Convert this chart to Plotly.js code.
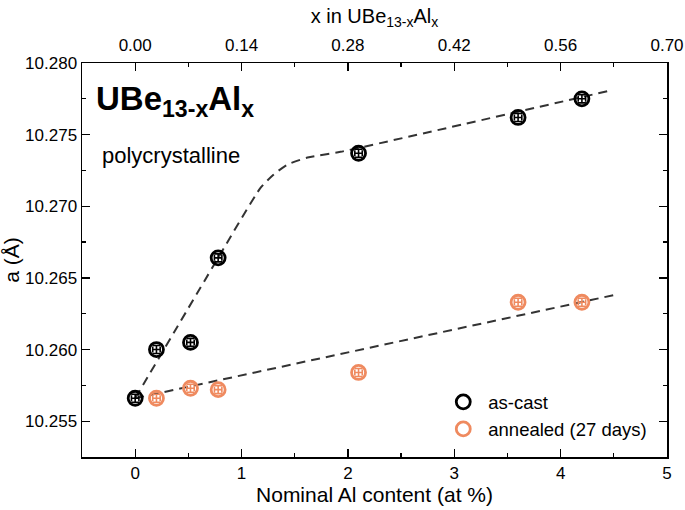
<!DOCTYPE html>
<html>
<head>
<meta charset="utf-8">
<script src="https://cdn.plot.ly/plotly-3.0.1.min.js"></script>
<style>html,body{margin:0;padding:0;background:#fff;}#chart{width:685px;height:510px;}</style>
</head>
<body>
<div id="chart"></div>
<script>
// Data
const asCastX = [0, 0.2, 0.52, 0.78, 2.1, 3.6, 4.2];
const asCastY = [10.2566, 10.2600, 10.2605, 10.2664, 10.2737, 10.2762, 10.2775];
const annealedX = [0.2, 0.52, 0.78, 2.1, 3.6, 4.2];
const annealedY = [10.2566, 10.2573, 10.2572, 10.2584, 10.2633, 10.2633];
// guide lines (dashed)
const guide1X = [0, 0.78, 1.18, 1.30, 1.43, 1.62, 1.93, 4.48];
const guide1Y = [10.2566, 10.2664, 10.2713, 10.2722, 10.2729, 10.2734, 10.2738, 10.2781];
const guide2X = [0, 4.5];
const guide2Y = [10.2566, 10.2638];
// top axis ticks (x in UBe13-xAlx)
const topTicks = [0.00, 0.14, 0.28, 0.42, 0.56, 0.70];
const topTickText = ['0.00', '0.14', '0.28', '0.42', '0.56', '0.70'];

const black = '#000000';
const orange = '#EF8A5F';
const font = 'Liberation Sans, Arial, sans-serif';

const errY = 0.00028, errX = 0.035;
function errs(n, v){ return Array(n).fill(v); }

const traces = [
  {x: guide1X, y: guide1Y, mode: 'lines', line: {color: '#333', width: 2, dash: '9px,6px', shape: 'spline', smoothing: 0.6}, showlegend: false, hoverinfo: 'skip'},
  {x: guide2X, y: guide2Y, mode: 'lines', line: {color: '#333', width: 2, dash: '9px,6px'}, showlegend: false, hoverinfo: 'skip'},
  {x: asCastX, y: asCastY, name: 'as-cast', mode: 'markers',
   marker: {symbol: 'circle-open', size: 14, color: black, line: {width: 2.8, color: black}},
   error_y: {type: 'data', array: errs(asCastX.length, errY), color: black, thickness: 1.6, width: 4},
   error_x: {type: 'data', array: errs(asCastX.length, errX), color: black, thickness: 1.6, width: 3}},
  {x: annealedX, y: annealedY, name: 'annealed (27 days)', mode: 'markers',
   marker: {symbol: 'circle-open', size: 14, color: orange, line: {width: 2.8, color: orange}},
   error_y: {type: 'data', array: errs(annealedX.length, errY), color: orange, thickness: 1.6, width: 4},
   error_x: {type: 'data', array: errs(annealedX.length, errX), color: orange, thickness: 1.6, width: 3}},
  {x: topTicks, y: topTicks.map(() => 10.27), xaxis: 'x2', mode: 'markers', marker: {opacity: 0}, showlegend: false, hoverinfo: 'skip'}
];

const layout = {
  width: 685, height: 510,
  margin: {l: 82, r: 18, t: 63, b: 53},
  paper_bgcolor: '#fff', plot_bgcolor: '#fff',
  font: {family: font, size: 17, color: '#000'},
  showlegend: true,
  legend: {x: 0.609, y: 0.187, xanchor: 'left', yanchor: 'top', font: {size: 18.5, family: font}, bgcolor: 'rgba(0,0,0,0)', itemwidth: 40, tracegroupgap: 0},
  xaxis: {
    range: [-0.5, 5], dtick: 1, tick0: 0,
    showgrid: false, zeroline: false,
    showline: true, linecolor: '#000', linewidth: 1.5, mirror: true,
    ticks: 'inside', ticklen: 8, tickwidth: 1.3, tickcolor: '#000',
    minor: {dtick: 0.5, ticks: 'inside', ticklen: 4, tickwidth: 1.2, tickcolor: '#000'},
    tickfont: {size: 17, family: font},
    title: {text: 'Nominal Al content (at %)', font: {size: 21, family: font}, standoff: 2}
  },
  xaxis2: {
    overlaying: 'x', side: 'top', range: [-0.07, 0.70],
    tickvals: topTicks, ticktext: topTickText,
    showgrid: false, zeroline: false, showline: false,
    ticks: 'inside', ticklen: 8, tickwidth: 1.3, tickcolor: '#000',
    minor: {dtick: 0.07, tick0: 0, ticks: 'inside', ticklen: 4, tickwidth: 1.2, tickcolor: '#000'},
    tickfont: {size: 17, family: font}, ticklabelstandoff: 8,
    title: {text: 'x in UBe<sub>13-x</sub>Al<sub>x</sub>', font: {size: 20, family: font}, standoff: 6}
  },
  yaxis: {
    range: [10.2525, 10.280], dtick: 0.005, tick0: 10.255, tickformat: '.3f',
    showgrid: false, zeroline: false,
    showline: true, linecolor: '#000', linewidth: 1.5, mirror: 'ticks',
    ticks: 'inside', ticklen: 8, tickwidth: 1.3, tickcolor: '#000',
    minor: {dtick: 0.0025, tick0: 10.255, ticks: 'inside', ticklen: 4, tickwidth: 1.2, tickcolor: '#000'},
    tickfont: {size: 17, family: font},
    title: {text: 'a (Å)', font: {size: 21, family: font}, standoff: 2}
  },
  annotations: [
    {xref: 'paper', yref: 'paper', x: 0.02, y: 0.962, xanchor: 'left', yanchor: 'top', showarrow: false,
     text: '<b>UBe<sub>13-x</sub>Al<sub>x</sub></b>', font: {size: 33, family: font, color: '#000'}},
    {xref: 'paper', yref: 'paper', x: 0.03, y: 0.765, xanchor: 'left', yanchor: 'middle', showarrow: false,
     text: 'polycrystalline', font: {size: 22, family: font, color: '#000'}}
  ]
};

Plotly.newPlot('chart', traces, layout, {displayModeBar: false, staticPlot: true});
</script>
</body>
</html>
